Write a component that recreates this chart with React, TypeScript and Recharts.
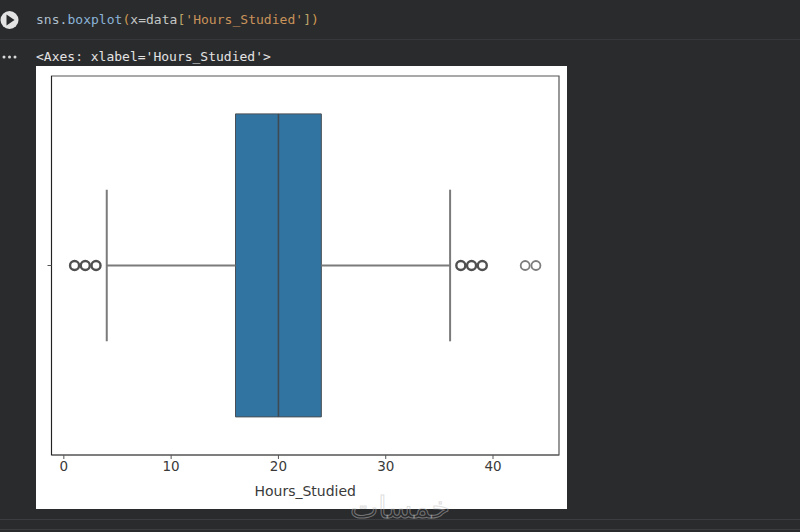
import React from 'react';
import { ComposedChart, Bar, Scatter, XAxis, YAxis, ReferenceArea } from 'recharts';

const categories = [''];
const q1 = 16;
const q3 = 24;
const median = 20;
const whiskerLow = 4;
const whiskerHigh = 36;
const outliersDark = [1, 2, 3, 37, 38, 39];
const outliersLight = [43, 44];
const xTicks = [0, 10, 20, 30, 40];
const xDomain = [-1.15, 46.15];
const codeParts = [
  ['sns.', '#aebfcc'],
  ['boxplot', '#8ab4d8'],
  ['(', '#d19a50'],
  ['x=data', '#c4c7c5'],
  ['[', '#b9a46a'],
  ["'Hours_Studied'", '#c9935a'],
  [']', '#b9a46a'],
  [')', '#d19a50'],
];
const outputText = "<Axes: xlabel='Hours_Studied'>";

const barRows = categories.map((c) => ({ c, range: [q1, q3] }));
const seg = (x1: number, y1: number, x2: number, y2: number) => [{ x: x1, y: y1 }, { x: x2, y: y2 }];
const points = (xs: number[]) => xs.map((x) => ({ x, y: 0 }));
const noDot = () => <g />;

const lineStroke = '#7b7b7b';
const mono = '"DejaVu Sans Mono", monospace';

export default function App() {
  return (
    <div style={{ position: 'absolute', left: 0, top: 0, width: 800, height: 532, background: '#2a2b2d', overflow: 'hidden' }}>
      <div style={{ position: 'absolute', left: 0, top: 39, width: 800, height: 1, background: '#37383b' }} />
      <div style={{ position: 'absolute', left: 0, top: 519, width: 800, height: 1, background: '#3c3d40' }} />
      <div style={{ position: 'absolute', left: 0, top: 529, width: 800, height: 1, background: '#3c3d40' }} />
      <svg width={20} height={70} style={{ position: 'absolute', left: 0, top: 0 }}>
        <circle cx={9.5} cy={20} r={9} fill="#e3e3e3" />
        <path d="M6.5 14.5 L14.5 20 L6.5 25.5 Z" fill="#2a2b2d" />
        <circle cx={4} cy={57} r={1.5} fill="#d8d8d8" />
        <circle cx={9.5} cy={57} r={1.5} fill="#d8d8d8" />
        <circle cx={15} cy={57} r={1.5} fill="#d8d8d8" />
      </svg>
      <div style={{ position: 'absolute', left: 36, top: 12, fontFamily: mono, fontSize: 13, lineHeight: '16px', letterSpacing: 0.03, whiteSpace: 'pre' }}>
        {codeParts.map(([t, c], i) => <span key={i} style={{ color: c }}>{t}</span>)}
      </div>
      <div style={{ position: 'absolute', left: 36, top: 49, fontFamily: mono, fontSize: 13, lineHeight: '16px', color: '#e3e3e3', whiteSpace: 'pre' }}>{outputText}</div>
      <div style={{ position: 'absolute', left: 36, top: 66, width: 531, height: 443, background: '#ffffff' }} />
      <div style={{ position: 'absolute', left: 0, top: 0 }}>
        <ComposedChart
          width={800}
          height={532}
          layout="vertical"
          data={barRows}
          barCategoryGap="10%"
          margin={{ left: 11.5, top: 76, right: 241, bottom: 27 }}
        >
          <XAxis
            type="number"
            dataKey="x"
            domain={xDomain}
            ticks={xTicks}
            allowDataOverflow
            height={50}
            stroke="#555555"
            tickLine={{ stroke: '#555555' }}
            tickSize={4}
            tick={{ fill: '#3a3a3a', fontFamily: 'DejaVu Sans', fontSize: 13.5 }}
            label={{ value: 'Hours_Studied', position: 'insideBottom', offset: 9, fill: '#3a3a3a', fontFamily: 'DejaVu Sans', fontSize: 14 }}
          />
          <YAxis yAxisId="cat" type="category" dataKey="c" width={40} stroke="#222222" tickLine={{ stroke: '#555555' }} tickSize={4} />
          <YAxis yAxisId="num" type="number" dataKey="y" domain={[-0.5, 0.5]} hide />
          <ReferenceArea yAxisId="num" x1={xDomain[0]} x2={xDomain[1]} y1={-0.5} y2={0.5} fill="none" stroke="#555555" strokeWidth={1.2} ifOverflow="visible" />
          <Bar yAxisId="cat" dataKey="range" fill="#3274a1" stroke="#4a4f55" strokeWidth={1} isAnimationActive={false} />
          <Scatter yAxisId="num" data={seg(median, -0.4, median, 0.4)} dataKey="y" line={{ stroke: '#3f4a54', strokeWidth: 1.6 }} shape={noDot} isAnimationActive={false} />
          <Scatter yAxisId="num" data={seg(whiskerLow, 0, q1, 0)} dataKey="y" line={{ stroke: lineStroke, strokeWidth: 2 }} shape={noDot} isAnimationActive={false} />
          <Scatter yAxisId="num" data={seg(q3, 0, whiskerHigh, 0)} dataKey="y" line={{ stroke: lineStroke, strokeWidth: 2 }} shape={noDot} isAnimationActive={false} />
          <Scatter yAxisId="num" data={seg(whiskerLow, -0.2, whiskerLow, 0.2)} dataKey="y" line={{ stroke: lineStroke, strokeWidth: 2 }} shape={noDot} isAnimationActive={false} />
          <Scatter yAxisId="num" data={seg(whiskerHigh, -0.2, whiskerHigh, 0.2)} dataKey="y" line={{ stroke: lineStroke, strokeWidth: 2 }} shape={noDot} isAnimationActive={false} />
          <Scatter
            yAxisId="num"
            data={points(outliersDark)}
            dataKey="y"
            shape={(p: any) => <circle cx={p.cx} cy={p.cy} r={4.5} fill="none" stroke="#505050" strokeWidth={2.4} />}
            isAnimationActive={false}
          />
          <Scatter
            yAxisId="num"
            data={points(outliersLight)}
            dataKey="y"
            shape={(p: any) => <circle cx={p.cx} cy={p.cy} r={4.5} fill="none" stroke="#7d7d7d" strokeWidth={1.8} />}
            isAnimationActive={false}
          />
        </ComposedChart>
      </div>
      <div style={{ position: 'absolute', left: 300, top: 490, width: 200, textAlign: 'center', fontFamily: '"DejaVu Sans"', fontSize: 30, lineHeight: '36px', color: 'rgba(255,255,255,0.02)', WebkitTextStroke: '1px rgba(190,190,190,0.5)' }}>خمسات</div>
    </div>
  );
}
